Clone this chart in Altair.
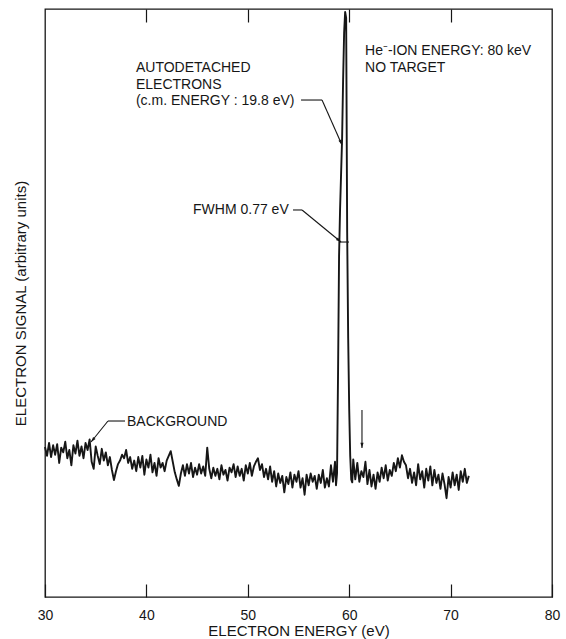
import altair as alt
import pandas as pd

INK = "#161616"
FONT = "Liberation Sans"

# ---------------- data ----------------
# background before the peak: 30.0 ... 58.6 eV, every 0.2 eV
bg1_start, bg1_step = 30.0, 0.2
bg1_values = [
    25.5, 24.0, 26.2, 23.8, 25.8,
    24.2, 26.0, 22.8, 25.4, 24.6,
    26.4, 23.6, 25.0, 22.4, 25.8,
    24.4, 26.6, 24.0, 25.6, 23.6,
    26.2, 25.0, 26.8, 23.0, 21.8,
    25.6, 24.0, 22.6, 25.2, 23.2,
    24.6, 22.4, 23.8, 21.6, 19.9,
    21.4, 22.6, 23.2, 24.2, 23.6,
    25.0, 22.8, 23.8, 21.8, 23.2,
    21.4, 23.8, 22.0, 24.0, 20.8,
    23.4, 22.0, 24.2, 21.2, 22.8,
    20.6, 23.6, 22.0, 22.8, 21.4,
    23.2, 24.0, 24.8, 23.0, 21.2,
    20.0, 18.9, 21.0, 22.4, 20.6,
    22.6, 21.0, 22.8, 20.4, 22.0,
    20.8, 22.6, 21.0, 22.2, 20.6,
    25.4, 21.8, 20.2, 22.0, 20.6,
    21.8, 20.0, 22.4, 20.8, 21.6,
    19.8, 22.0, 21.2, 22.6, 20.4,
    22.2, 20.6, 21.8, 19.8, 22.4,
    21.0, 22.8, 20.6, 22.2, 23.0,
    23.6, 21.6, 22.6, 20.4, 21.8,
    20.0, 22.2, 19.6, 21.4, 18.8,
    21.0, 19.4, 20.6, 17.8, 20.4,
    19.2, 21.2, 18.6, 20.8, 19.6,
    21.4, 18.6, 20.2, 17.4, 20.8,
    19.0, 21.0, 19.6, 20.6, 18.4,
    20.8, 19.4, 21.6, 18.6, 20.2,
    18.8, 22.4, 19.6, 23.0,
]

# autodetachment peak, every 0.1 eV
peak_energy = [58.7, 58.8, 58.9, 59.0, 59.1, 59.2, 59.3, 59.4, 59.5,
               59.6, 59.7, 59.8, 59.9, 60.0, 60.1, 60.2, 60.3]
peak_values = [19.0, 21.0, 38.0, 58.0, 66.0, 72.0, 78.0, 88.0, 96.0,
               99.5, 98.5, 62.0, 44.0, 32.0, 24.0, 20.0, 19.5]

# background after the peak: 60.4 ... 71.8 eV, every 0.2 eV
bg2_start, bg2_step = 60.4, 0.2
bg2_values = [
    23.4, 20.0, 22.8, 19.6, 21.4,
    20.4, 23.0, 19.2, 21.6, 18.8,
    20.8, 18.4, 21.2, 19.6, 22.0,
    20.2, 22.4, 19.8, 21.6, 20.6,
    22.8, 21.4, 23.6, 22.0, 24.1,
    23.0, 22.4, 20.2, 21.8, 19.4,
    21.2, 19.0, 22.6, 20.0, 21.4,
    18.6, 21.8, 19.8, 22.2, 19.0,
    21.6, 19.4, 20.8, 18.4, 21.0,
    19.2, 16.8, 20.4, 18.6, 21.2,
    19.0, 20.8, 18.2, 21.4, 19.6,
    21.8, 19.4, 20.6,
]

x_ticks = [30, 40, 50, 60, 70, 80]
inner_ticks = [40, 50, 60, 70]

# annotations (energy, signal, text)
labels_x = [38.97, 38.97, 38.97, 44.6, 61.56, 61.56, 38.09]
labels_y = [89.97, 87.07, 84.35, 65.8, 92.9, 90.0, 29.8]
labels_t = ["AUTODETACHED", "ELECTRONS", "(c.m. ENERGY : 19.8 eV)",
            "FWHM 0.77 eV", "He\u207b-ION ENERGY: 80 keV", "NO TARGET",
            "BACKGROUND"]

# leader lines (x, y) -> (x2, y2)
lead_x = [55.25, 57.32, 54.46, 55.35, 58.99, 36.21, 36.21, 61.26]
lead_y = [84.52, 84.52, 65.82, 65.82, 60.37, 29.93, 29.93, 31.8]
lead_x2 = [57.32, 59.29, 55.35, 59.19, 59.98, 37.89, 34.54, 61.26]
lead_y2 = [84.52, 76.87, 65.82, 60.37, 60.37, 29.93, 26.36, 25.34]

# arrow heads: tip position and direction (deg, clockwise from up)
head_x = [59.29, 59.19, 34.54, 61.26]
head_y = [76.87, 60.37, 26.36, 25.34]
head_ang = [156.4, 129.4, 219.0, 180.0]

# ---------------- tables ----------------
energy = [round(bg1_start + bg1_step * i, 2) for i in range(len(bg1_values))]
energy += peak_energy
energy += [round(bg2_start + bg2_step * i, 2) for i in range(len(bg2_values))]
signal = bg1_values + peak_values + bg2_values
trace_df = pd.DataFrame({"e": energy, "v": signal})

labels_df = pd.DataFrame({"x": labels_x, "y": labels_y, "t": labels_t})
lead_df = pd.DataFrame({"x": lead_x, "y": lead_y, "x2": lead_x2, "y2": lead_y2})
head_df = pd.DataFrame({"x": head_x, "y": head_y, "a": head_ang})

xscale = alt.Scale(domain=[30, 80], nice=False, zero=False)
yscale = alt.Scale(domain=[0, 100], nice=False, zero=False)

bottom_axis = alt.Axis(
    orient="bottom", values=x_ticks, offset=-13, tickSize=13, tickWidth=1.2,
    tickColor=INK, domain=False, grid=False, labelFlush=False,
    labelOverlap=False, labelFont=FONT, labelFontSize=14, labelColor=INK,
    labelPadding=11, title="ELECTRON ENERGY (eV)", titleFont=FONT,
    titleFontSize=15, titleFontWeight="normal", titleColor=INK,
    titleY=51, titleBaseline="alphabetic",
)
top_axis = alt.Axis(
    orient="top", values=inner_ticks, offset=-13, tickSize=13, tickWidth=1.2,
    tickColor=INK, domain=False, grid=False, labels=False, title=None,
)
YTITLE = "ELECTRON SIGNAL (arbitrary units)"
left_axis = alt.Axis(
    orient="left", ticks=False, labels=False, domain=False, grid=False,
    title=YTITLE, titleFont=FONT,
    titleFontSize=15, titleFontWeight="normal", titleColor=INK,
    titleAngle=270, titleX=-25, titleY=294, titleAlign="center",
    titleBaseline="middle",
)

def yenc(field):
    return alt.Y(field, scale=yscale, axis=left_axis, title=YTITLE)

trace = alt.Chart(trace_df).mark_line(
    color=INK, strokeWidth=1.9, strokeJoin="round"
).encode(
    x=alt.X("e:Q", scale=xscale, axis=bottom_axis),
    y=yenc("v:Q"),
)

texts = alt.Chart(labels_df).mark_text(
    align="left", baseline="middle", font=FONT, fontSize=14, color=INK
).encode(
    x=alt.X("x:Q", scale=xscale, axis=top_axis),
    y=yenc("y:Q"),
    text="t:N",
)

leads = alt.Chart(lead_df).mark_rule(color=INK, strokeWidth=1.1).encode(
    x=alt.X("x:Q", scale=xscale, axis=None),
    y=yenc("y:Q"),
    x2="x2:Q",
    y2="y2:Q",
)

heads = alt.Chart(head_df).mark_point(
    shape="M0,0L-0.3,1L0.3,1Z", filled=True, size=110, color=INK,
    opacity=1, strokeWidth=0,
).encode(
    x=alt.X("x:Q", scale=xscale, axis=None),
    y=yenc("y:Q"),
    angle=alt.Angle("a:Q", scale=None),
)

chart = alt.layer(trace, texts, leads, heads).resolve_axis(
    x="independent"
).properties(
    width=507, height=588,
    autosize=alt.AutoSizeParams(type="none"),
    padding={"left": 45, "top": 9, "right": 14, "bottom": 42},
    background="white",
).configure_view(stroke=INK, strokeWidth=1.3)

chart.save("out.html", embed_options={"renderer": "svg", "actions": False})
